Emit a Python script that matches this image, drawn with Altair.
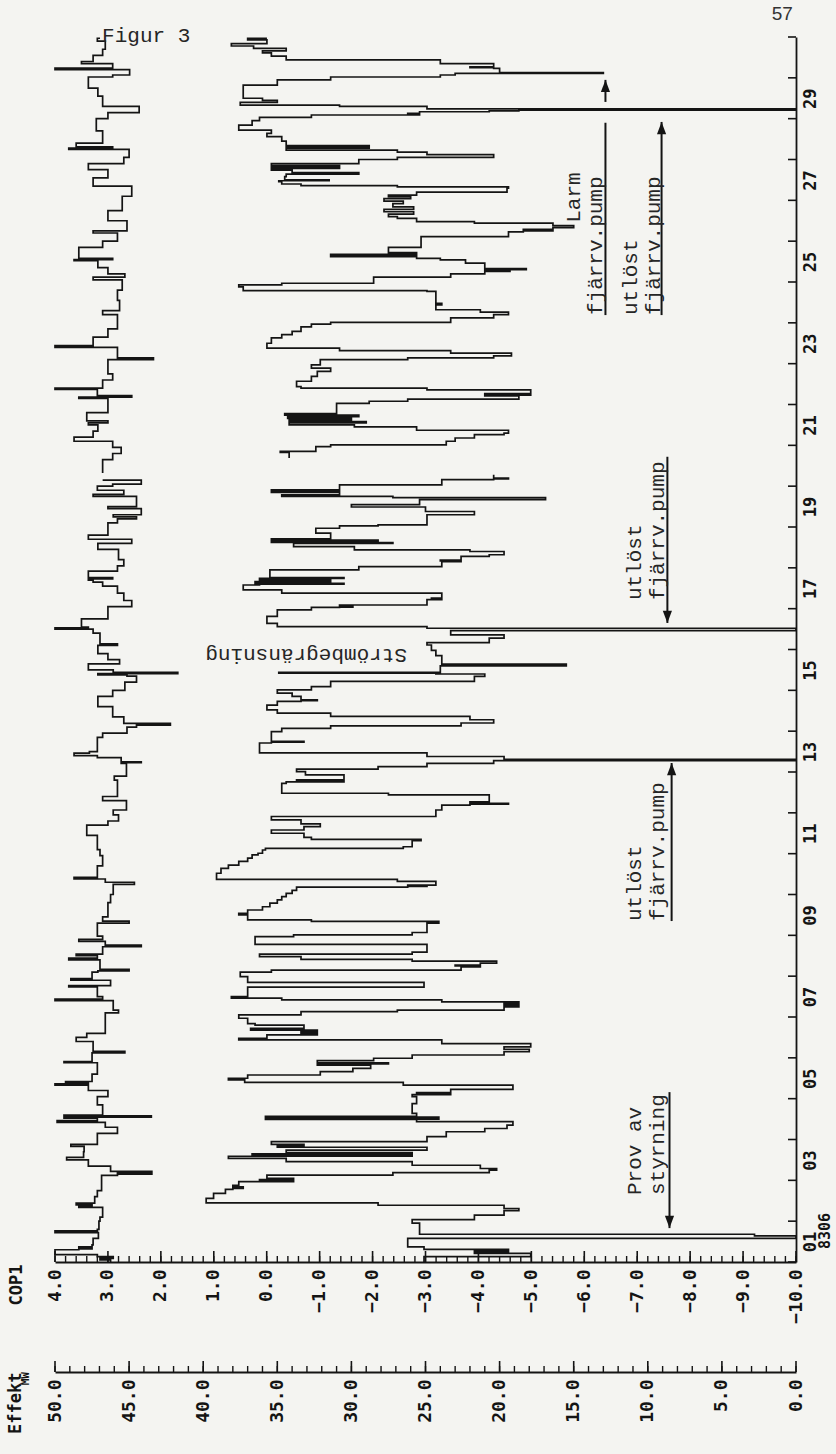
import altair as alt
import pandas as pd

# Plot area (pixels) and offset of the second (Effekt) value axis
W, H = 741, 1225
EFF_AXIS_OFFSET = 110

# ---- Effekt (MW), step series: day -> value taken from that moment on ----
EFF_DAY = [
    1.00, 1.13, 1.21, 1.24, 1.26, 1.28, 1.31, 1.37, 1.58, 1.64, 1.68, 1.95, 2.04, 2.15, 2.26, 2.31,
    2.39, 2.45, 2.56, 2.68, 2.78, 2.80, 2.84, 2.88, 2.97, 2.99, 3.02, 3.05, 3.13, 3.19, 3.25, 3.29,
    3.37, 3.46, 3.54, 3.59, 3.60, 3.61, 3.63, 3.65, 3.68, 3.74, 3.81, 3.84, 3.88, 3.95, 4.07, 4.19,
    4.27, 4.35, 4.44, 4.49, 4.50, 4.51, 4.53, 4.55, 4.57, 4.64, 4.88, 5.05, 5.10, 5.12, 5.15, 5.23,
    5.33, 5.40, 5.46, 5.50, 5.58, 5.66, 5.74, 5.82, 5.85, 5.88, 5.93, 5.99, 6.07, 6.15, 6.21, 6.27,
    6.35, 6.44, 6.48, 6.56, 6.60, 6.64, 6.68, 6.72, 6.80, 6.84, 6.97, 7.05, 7.13, 7.17, 7.25, 7.29,
    7.33, 7.37, 7.42, 7.46, 7.50, 7.73, 7.85, 7.99, 8.10, 8.15, 8.23, 8.25, 8.27, 8.32, 8.37, 8.41,
    8.48, 8.54, 8.59, 8.78, 8.97, 9.01, 9.07, 9.30, 9.34, 9.38, 9.50, 9.54, 9.62, 9.70, 9.79, 9.87,
    9.95, 10.03, 10.10, 10.18, 10.20, 10.22, 10.23, 10.32, 10.37, 10.52, 10.64, 10.72, 10.81, 10.89,
    10.97, 11.01, 11.09, 11.13, 11.17, 11.32, 11.35, 11.40, 11.50, 11.58, 11.66, 11.73, 11.83, 11.91,
    12.07, 12.19, 12.21, 12.23, 12.27, 12.44, 12.48, 12.72, 12.76, 12.78, 12.81, 12.93, 13.01, 13.07,
    13.13, 13.21, 13.28, 13.31, 13.38, 13.47, 13.71, 13.73, 13.75, 13.99, 14.07, 14.13, 14.20, 14.28,
    14.36, 14.44, 14.52, 14.64, 14.73, 14.75, 14.77, 14.85, 14.93, 15.01, 15.09, 15.22, 15.34, 15.40,
    15.42, 15.44, 15.60, 15.61, 15.62, 15.64, 15.85, 15.98, 16.11, 16.17, 16.28, 16.36, 16.46, 16.52,
    16.56, 16.64, 16.81, 16.97, 17.03, 17.04, 17.05, 17.09, 17.22, 17.24, 17.26, 17.38, 17.46, 17.58,
    17.60, 17.62, 17.66, 17.70, 17.74, 17.76, 17.95, 18.03, 18.15, 18.17, 18.19, 18.28, 18.32, 18.40,
    18.44, 18.52, 18.60, 18.62, 18.65, 18.68, 18.71, 18.85, 18.97, 19.03, 19.05, 19.30, 19.38, 19.49,
    19.55, 19.67, 19.72, 19.75, 19.79, 19.85, 19.87, 19.89, 19.91, 20.03, 20.16, 20.18, 20.20, 20.28,
    20.69, 20.83, 20.85, 20.97, 21.01, 21.10, 21.18, 21.26, 21.30, 21.37, 21.45, 21.50, 21.55, 21.58,
    21.62, 21.66, 21.70, 21.74, 21.78, 22.03, 22.08, 22.13, 22.21, 22.23, 22.25, 22.27, 22.36, 22.40,
    22.44, 22.57, 22.69, 22.81, 22.89, 22.97, 23.10, 23.14, 23.19, 23.26, 23.32, 23.38, 23.50, 23.63,
    23.71, 23.79, 23.90, 23.97, 24.01, 24.12, 24.20, 24.26, 24.32, 24.44, 24.48, 24.77, 24.79, 24.88,
    24.93, 24.97, 25.12, 25.20, 25.26, 25.28, 25.30, 25.33, 25.46, 25.54, 25.58, 25.62, 25.64, 25.66,
    25.68, 25.72, 25.85, 26.11, 26.23, 26.25, 26.27, 26.29, 26.33, 26.38, 26.44, 26.48, 26.56, 26.60,
    26.66, 26.72, 26.78, 26.84, 26.92, 26.98, 27.04, 27.09, 27.13, 27.20, 27.30, 27.33, 27.36, 27.40,
    27.46, 27.48, 27.50, 27.58, 27.64, 27.68, 27.74, 27.78, 27.80, 27.82, 27.85, 27.90, 28.00, 28.05,
    28.12, 28.18, 28.23, 28.28, 28.30, 28.32, 28.34, 28.45, 28.56, 28.64, 28.72, 28.84, 28.95, 29.03,
    29.09, 29.11, 29.13, 29.17, 29.19, 29.21, 29.24, 29.30, 29.33, 29.40, 29.45, 29.50, 29.82, 29.95,
    30.02, 30.07, 30.11, 30.13, 30.23, 30.25, 30.27, 30.35, 30.44, 30.53, 30.61, 30.66, 30.72, 30.78,
    30.84, 30.93, 30.97,
]
EFF_MW = [
    25.1, 17.9, 21.7, 19.4, 21.7, 19.4, 25.1, 26.2, 0.0, 2.8, 25.4, 25.9, 21.7, 19.7, 18.7, 19.7,
    28.2, 39.8, 39.3, 38.5, 38.0, 37.3, 38.0, 37.6, 33.9, 36.2, 33.9, 35.7, 27.2, 20.7, 20.2, 21.3,
    25.9, 34.4, 38.3, 25.9, 36.7, 25.9, 36.7, 25.9, 34.4, 24.9, 35.0, 33.2, 35.4, 24.9, 23.6, 21.0,
    19.5, 19.1, 25.6, 35.8, 24.1, 35.8, 24.1, 35.8, 25.6, 25.9, 25.6, 25.9, 23.3, 25.6, 23.3, 19.1,
    26.5, 37.2, 38.3, 37.0, 32.1, 29.9, 28.7, 32.3, 27.5, 32.3, 28.5, 25.9, 19.7, 18.0, 19.7, 17.9,
    23.9, 37.6, 35.7, 32.3, 33.4, 32.3, 36.8, 33.2, 36.5, 37.0, 37.6, 33.4, 26.9, 19.7, 18.7, 19.7,
    18.7, 23.9, 34.7, 38.1, 37.0, 25.1, 37.0, 37.5, 35.4, 22.6, 21.3, 23.0, 21.3, 20.2, 25.9, 33.4,
    36.2, 25.9, 24.9, 36.5, 33.9, 25.9, 24.9, 24.1, 32.7, 37.0, 37.6, 37.0, 36.0, 35.5, 35.0, 34.7,
    34.4, 34.0, 33.7, 26.2, 24.9, 26.2, 24.3, 26.9, 39.1, 38.8, 38.3, 37.6, 37.0, 36.7,
    36.3, 36.0, 35.8, 26.5, 25.9, 25.3, 32.7, 33.2, 35.4, 33.2, 32.1, 33.4, 35.4, 24.3,
    23.9, 22.0, 19.4, 22.0, 20.7, 27.5, 34.7, 34.4, 30.5, 33.7, 30.5, 33.1, 33.7, 28.2,
    24.9, 20.4, 0.0, 19.7, 24.9, 36.2, 35.4, 33.2, 35.4, 34.7, 31.4, 22.6, 20.4, 22.0,
    31.4, 35.0, 35.7, 35.0, 33.4, 32.3, 33.4, 34.0, 35.0, 32.7, 31.4, 21.7, 21.0, 24.3,
    34.9, 24.0, 15.5, 18.4, 15.5, 23.9, 24.3, 24.6, 24.9, 20.7, 19.7, 23.3, 0.0, 24.9,
    35.0, 35.7, 35.0, 32.7, 30.8, 29.9, 30.8, 24.9, 23.9, 24.6, 23.9, 34.7, 37.3, 36.2,
    30.5, 36.5, 31.4, 36.2, 30.5, 35.5, 29.5, 23.9, 22.6, 24.0, 22.6, 20.7, 19.7, 22.0,
    29.8, 33.9, 27.2, 35.4, 28.2, 35.4, 31.4, 32.4, 30.8, 28.2, 24.9, 21.7, 25.0, 30.0,
    25.4, 16.9, 27.2, 34.7, 30.8, 35.4, 30.8, 35.4, 30.8, 23.9, 20.4, 19.4, 20.4, 20.4,
    34.2, 34.8, 32.4, 31.4, 23.6, 23.0, 21.7, 19.7, 19.4, 25.6, 29.8, 34.2, 29.0, 34.2,
    30.0, 34.3, 29.5, 34.5, 31.0, 28.8, 26.2, 18.7, 21.0, 17.9, 21.0, 17.9, 24.9, 33.4,
    33.7, 32.7, 32.3, 31.4, 32.7, 32.1, 26.2, 20.4, 19.2, 23.3, 30.8, 35.7, 35.4, 34.7,
    34.0, 33.4, 32.7, 31.4, 23.3, 20.4, 19.4, 21.3, 24.3, 23.9, 24.3, 24.9, 37.3, 37.6,
    34.7, 28.5, 23.3, 21.0, 19.3, 21.0, 18.2, 21.0, 22.3, 24.0, 25.6, 31.4, 25.6, 31.4,
    25.6, 27.5, 25.3, 19.4, 18.4, 16.4, 18.4, 16.4, 15.0, 16.4, 21.7, 25.6, 26.9, 27.5,
    25.8, 27.8, 25.8, 27.2, 26.5, 27.8, 26.0, 27.5, 25.6, 19.5, 19.4, 26.9, 33.4, 34.7,
    34.9, 31.5, 34.5, 34.4, 29.5, 34.0, 35.4, 30.8, 35.4, 30.8, 35.4, 29.5, 26.9, 20.4,
    24.9, 26.9, 34.4, 28.8, 34.4, 28.8, 34.4, 34.7, 35.7, 35.4, 37.6, 36.7, 36.2, 32.7,
    25.4, 26.2, 25.4, 20.7, 18.7, 0.0, 24.9, 30.8, 37.5, 35.0, 36.0, 37.3, 35.0, 31.4,
    24.0, 23.0, 13.0, 20.0, 20.4, 22.0, 20.4, 24.0, 34.4, 35.4, 36.0, 34.4, 36.6, 38.1,
    35.7, 37.0, 35.7,
]

# ---- COP1, step series ----
COP_DAY = [
    1.00, 1.05, 1.09, 1.13, 1.18, 1.30, 1.32, 1.34, 1.37, 1.42, 1.58, 1.72, 1.76, 1.80, 2.00, 2.10,
    2.34, 2.37, 2.40, 2.44, 2.60, 2.75, 3.12, 3.15, 3.18, 3.20, 3.22, 3.35, 3.50, 3.56, 3.70, 3.83,
    3.88, 4.15, 4.30, 4.42, 4.46, 4.52, 4.55, 4.58, 4.60, 4.70, 4.85, 5.05, 5.20, 5.33, 5.36, 5.38,
    5.42, 5.60, 5.88, 5.91, 6.12, 6.16, 6.40, 6.50, 6.60, 6.85, 7.10, 7.17, 7.40, 7.44, 7.50, 7.74,
    7.77, 7.90, 7.94, 8.10, 8.13, 8.17, 8.40, 8.44, 8.50, 8.54, 8.72, 8.76, 8.85, 8.90, 8.98, 9.30,
    9.35, 9.45, 9.80, 10.00, 10.25, 10.30, 10.38, 10.42, 10.70, 10.95, 11.10, 11.45, 11.70, 11.80,
    11.95, 12.07, 12.30, 12.40, 12.80, 12.90, 13.21, 13.23, 13.25, 13.35, 13.40, 13.46, 13.50, 13.85,
    13.95, 14.10, 14.15, 14.19, 14.35, 14.60, 14.85, 15.00, 15.20, 15.35, 15.38, 15.41, 15.44, 15.50,
    15.65, 15.75, 15.90, 16.10, 16.14, 16.40, 16.50, 16.53, 16.55, 16.75, 17.05, 17.20, 17.38, 17.55,
    17.65, 17.70, 17.73, 17.76, 17.92, 18.05, 18.20, 18.45, 18.60, 18.70, 18.80, 19.10, 19.20, 19.25,
    19.30, 19.45, 19.50, 19.75, 19.80, 19.90, 20.00, 20.05, 20.15, 20.32,
    20.65, 20.80, 20.95, 21.10, 21.20, 21.35, 21.50, 21.55, 21.60, 21.80, 22.15, 22.18, 22.22, 22.37,
    22.40, 22.60, 22.75, 23.10, 23.14, 23.40, 23.44, 23.65, 23.85, 24.20, 24.30, 24.55, 24.80, 25.05,
    25.12, 25.20, 25.35, 25.52, 25.55, 25.58, 25.85, 26.00, 26.20, 26.25, 26.50, 26.75, 27.10, 27.35,
    27.55, 27.75, 27.90, 28.05, 28.25, 28.28, 28.31, 28.40, 28.70, 29.00, 29.15, 29.30, 29.55, 29.75,
    30.02, 30.07, 30.20, 30.24, 30.35, 30.40, 30.55, 30.70, 30.90, 30.97,
]
COP_VAL = [
    2.95, 3.15, 2.90, 3.20, 4.00, 3.55, 3.30, 3.55, 3.30, 3.28, 3.18, 4.00, 3.20, 3.17, 3.15, 3.10,
    3.55, 3.30, 3.60, 3.25, 3.20, 3.12, 2.82, 2.17, 2.82, 2.17, 2.95, 3.37, 3.78, 3.46, 3.45, 3.70,
    3.20, 2.82, 3.05, 3.96, 3.20, 3.83, 2.18, 3.83, 3.10, 3.10, 3.20, 3.00, 3.37, 4.00, 3.37, 3.80,
    3.30, 3.20, 3.83, 3.30, 2.68, 3.28, 3.60, 3.40, 3.05, 3.05, 2.80, 2.90, 4.00, 3.10, 3.20, 3.74,
    2.95, 3.70, 3.30, 3.19, 2.60, 3.15, 3.74, 3.20, 3.60, 3.10, 2.37, 3.05, 3.55, 3.10, 3.20, 2.60,
    3.10, 3.00, 2.95, 2.90, 2.50, 3.05, 3.64, 3.20, 3.10, 3.15, 3.20, 3.40, 3.00, 2.80,
    2.90, 2.65, 3.10, 2.82, 2.88, 2.65, 2.75, 2.37, 2.75, 3.20, 3.64, 3.35, 3.20, 3.10,
    2.64, 2.46, 1.82, 2.70, 2.91, 3.19, 2.91, 2.68, 2.46, 2.64, 3.19, 1.68, 2.90, 3.37,
    2.78, 3.00, 3.19, 2.82, 3.15, 3.28, 4.00, 3.37, 3.50, 3.00, 2.55, 2.70, 2.82, 3.10,
    3.28, 3.37, 2.91, 3.37, 2.82, 2.70, 2.80, 3.19, 2.55, 3.37, 3.00, 2.82, 2.46, 2.90,
    2.37, 3.00, 2.46, 3.28, 2.70, 3.20, 2.91, 2.37, 3.10, 3.10,
    2.91, 2.75, 2.91, 3.64, 3.28, 3.19, 3.37, 3.00, 3.40, 3.00, 3.55, 2.55, 3.20, 4.00,
    3.10, 2.91, 3.00, 2.14, 2.82, 4.00, 3.28, 3.00, 2.82, 3.10, 2.78, 2.82, 2.73, 3.28,
    2.68, 3.00, 3.19, 3.64, 2.91, 3.55, 3.10, 2.82, 3.28, 2.64, 3.00, 2.73, 2.55, 3.28,
    3.00, 3.37, 2.70, 2.60, 3.74, 2.91, 3.60, 3.10, 3.22, 3.00, 2.41, 3.10, 3.19, 3.37,
    2.91, 2.59, 4.00, 2.91, 3.50, 3.28, 3.10, 3.05, 3.20, 3.15,
]

# No readings were logged between these two moments (both series)
GAP_START, GAP_END = 20.30, 20.60

# Axis values
COP_LABELS = [-10, -9, -8, -7, -6, -5, -4, -3, -2, -1, 0, 1, 2, 3, 4]
MW_LABELS = [0, 5, 10, 15, 20, 25, 30, 35, 40, 45, 50]
DAY_LABELS = [1.5, 3.5, 5.5, 7.5, 9.5, 11.5, 13.5, 15.5, 17.5, 19.5, 21.5, 23.5, 25.5, 27.5, 29.5]
DAY_TICKS = list(range(1, 32))
COP_MINOR = [round(-10 + 0.2 * i, 1) for i in range(71)]
MW_MINOR = list(range(0, 51))

# Hand annotations: text, COP position of the baseline, day where the text starts
NOTE_TEXT = ["Prov av", "styrning", "utlöst", "fjärrv.pump", "utlöst", "fjärrv.pump",
             "utlöst", "fjärrv.pump", "Larm", "fjärrv.pump"]
NOTE_COP = [-7.08, -7.51, -7.08, -7.51, -7.08, -7.51, -7.00, -7.43, -5.91, -6.33]
NOTE_DAY = [2.64, 2.64, 9.35, 9.35, 17.21, 17.21, 24.19, 24.19, 26.45, 24.19]

# Arrow shafts: COP position, start day, end day
SHAFT_COP = [-7.61, -7.65, -7.57, -7.46, -6.40, -6.40]
SHAFT_FROM = [5.16, 9.35, 20.72, 24.19, 24.19, 29.41]
SHAFT_TO = [1.83, 13.22, 16.65, 28.92, 28.90, 29.95]
# Arrow heads (centre), pointing up / down
HEAD_UP_COP = [-7.65, -7.46, -6.40]
HEAD_UP_DAY = [13.07, 28.77, 29.80]
HEAD_DOWN_COP = [-7.61, -7.57]
HEAD_DOWN_DAY = [1.98, 16.80]

INK = "#141414"
MONO_BOLD = "DejaVu Sans Mono"
TYPE = "Liberation Mono"

cop_scale = alt.Scale(domain=[-10, 4], reverse=True, nice=False, zero=False)
mw_scale = alt.Scale(domain=[0, 50], reverse=True, nice=False, zero=False)
day_scale = alt.Scale(domain=[1, 31], nice=False, zero=False)

eff = pd.DataFrame({"day": EFF_DAY, "mw": EFF_MW})
eff["seg"] = (eff["day"] > GAP_START).astype(int)
cop = pd.DataFrame({"day": COP_DAY, "cop": COP_VAL})
cop["seg"] = (cop["day"] > GAP_START).astype(int)

label_style = dict(
    labelAngle=270, labelAlign="right", labelBaseline="middle", labelPadding=7,
    labelFont=MONO_BOLD, labelFontWeight="bold", labelFontSize=18, labelColor=INK,
    labelOverlap=False, labelFlush=False, ticks=False, tickSize=0, grid=False,
    domainColor=INK, domainWidth=1.8, format=".1f",
    titleAngle=270, titleAlign="right", titleBaseline="alphabetic",
    titleFont=MONO_BOLD, titleFontWeight="bold", titleFontSize=17, titleColor=INK,
)

cop_axis = alt.Axis(orient="bottom", values=COP_LABELS, title="COP1",
                    titleX=-34, titleY=2, **label_style)
mw_axis = alt.Axis(orient="bottom", values=MW_LABELS, offset=EFF_AXIS_OFFSET, title="Effekt",
                   titleX=-35, titleY=0, **label_style)
# the day axis is shared by every layer, so each layer carries the identical definition
day_axis = alt.Axis(
    orient="right", values=DAY_LABELS, title=None, ticks=False, tickSize=0, grid=False,
    labelExpr="(datum.value < 10 ? '0' : '') + floor(datum.value)",
    labelAngle=270, labelAlign="center", labelBaseline="top", labelPadding=6,
    labelFont=MONO_BOLD, labelFontWeight="bold", labelFontSize=17, labelColor=INK,
    labelOverlap=False, labelFlush=False, domainColor=INK, domainWidth=1.8,
)


def Y(field):
    return alt.Y(field, type="quantitative", scale=day_scale, axis=day_axis)


cop_line = alt.Chart(cop).mark_line(
    interpolate="step-before", color=INK, strokeWidth=1.7, strokeJoin="miter"
).encode(
    x=alt.X("cop:Q", scale=cop_scale, axis=cop_axis),
    y=Y("day"),
    order="day:Q",
    detail="seg:N",
)

eff_line = alt.Chart(eff).mark_line(
    interpolate="step-before", color=INK, strokeWidth=1.7, strokeJoin="miter"
).encode(
    x=alt.X("mw:Q", scale=mw_scale, axis=mw_axis),
    y=Y("day"),
    order="day:Q",
    detail="seg:N",
)

# inward tick marks on the three axes
cop_major = alt.Chart(pd.DataFrame({"v": COP_LABELS})).mark_rule(color=INK, strokeWidth=1.6).encode(
    x=alt.X("v:Q", scale=cop_scale, axis=None), y=alt.value(H - 11), y2=alt.value(H))
cop_minor = alt.Chart(pd.DataFrame({"v": COP_MINOR})).mark_rule(color=INK, strokeWidth=1.4).encode(
    x=alt.X("v:Q", scale=cop_scale, axis=None), y=alt.value(H - 6), y2=alt.value(H))
mw_base = H + EFF_AXIS_OFFSET
mw_major = alt.Chart(pd.DataFrame({"v": MW_LABELS})).mark_rule(color=INK, strokeWidth=1.6).encode(
    x=alt.X("v:Q", scale=mw_scale, axis=None), y=alt.value(mw_base - 11), y2=alt.value(mw_base))
mw_minor = alt.Chart(pd.DataFrame({"v": MW_MINOR})).mark_rule(color=INK, strokeWidth=1.4).encode(
    x=alt.X("v:Q", scale=mw_scale, axis=None), y=alt.value(mw_base - 6), y2=alt.value(mw_base))
day_ticks = alt.Chart(pd.DataFrame({"day": DAY_TICKS})).mark_rule(color=INK, strokeWidth=1.6).encode(
    y=Y("day"), x=alt.value(W - 8), x2=alt.value(W))

notes = alt.Chart(pd.DataFrame({"t": NOTE_TEXT, "c": NOTE_COP, "day": NOTE_DAY})).mark_text(
    angle=270, align="left", baseline="alphabetic", font=TYPE, fontSize=21, color="#262626"
).encode(x=alt.X("c:Q", scale=cop_scale, axis=None), y=Y("day"), text="t:N")

shafts = alt.Chart(pd.DataFrame({"c": SHAFT_COP, "day": SHAFT_FROM, "day2": SHAFT_TO})).mark_rule(
    color=INK, strokeWidth=2
).encode(x=alt.X("c:Q", scale=cop_scale, axis=None), y=Y("day"), y2="day2:Q")

head_up = alt.Chart(pd.DataFrame({"c": HEAD_UP_COP, "day": HEAD_UP_DAY})).mark_point(
    shape="M0,-1L0.75,1L-0.75,1Z", filled=True, color=INK, opacity=1, size=150
).encode(x=alt.X("c:Q", scale=cop_scale, axis=None), y=Y("day"))
head_down = alt.Chart(pd.DataFrame({"c": HEAD_DOWN_COP, "day": HEAD_DOWN_DAY})).mark_point(
    shape="M0,1L0.75,-1L-0.75,-1Z", filled=True, color=INK, opacity=1, size=150
).encode(x=alt.X("c:Q", scale=cop_scale, axis=None), y=Y("day"))

limit_note = alt.Chart(pd.DataFrame({"t": ["Strömbegränsning"], "c": [-2.65], "day": [16.01]})).mark_text(
    angle=180, align="left", baseline="alphabetic", font=TYPE, fontSize=21, color="#262626"
).encode(x=alt.X("c:Q", scale=cop_scale, axis=None), y=Y("day"), text="t:N")

fig_title = alt.Chart(pd.DataFrame({"t": ["Figur 3"], "c": [3.11], "day": [30.88]})).mark_text(
    align="left", baseline="alphabetic", font=TYPE, fontSize=21, color="#262626"
).encode(x=alt.X("c:Q", scale=cop_scale, axis=None), y=Y("day"), text="t:N")

page_no = alt.Chart(pd.DataFrame({"t": ["57"], "c": [-9.74], "day": [31.42]})).mark_text(
    align="center", baseline="alphabetic", font="Liberation Sans", fontSize=19, color="#333333"
).encode(x=alt.X("c:Q", scale=cop_scale, axis=None), y=Y("day"), text="t:N")

period = alt.Chart(pd.DataFrame({"t": ["8306"], "day": [1.76]})).mark_text(
    angle=270, align="center", baseline="top", font=MONO_BOLD, fontWeight="bold", fontSize=15, color=INK
).encode(x=alt.value(W + 22), y=Y("day"), text="t:N")

mw_unit = alt.Chart(pd.DataFrame({"t": ["MW"]})).mark_text(
    angle=270, align="right", baseline="alphabetic", font=MONO_BOLD, fontWeight="bold", fontSize=11, color=INK
).encode(x=alt.value(-26), y=alt.value(mw_base), text="t:N")

chart = alt.layer(
    cop_line, eff_line, cop_major, cop_minor, mw_major, mw_minor, day_ticks,
    shafts, head_up, head_down, notes, limit_note, fig_title, page_no, period, mw_unit,
).resolve_scale(
    x="independent"
).properties(
    width=W, height=H,
    padding={"left": 55, "top": 37, "right": 40, "bottom": 192},
    autosize=alt.AutoSizeParams(type="none"),
    background="#f4f4f1",
).configure_view(strokeWidth=0)

chart.save("out.html", embed_options={"renderer": "svg", "actions": False})
